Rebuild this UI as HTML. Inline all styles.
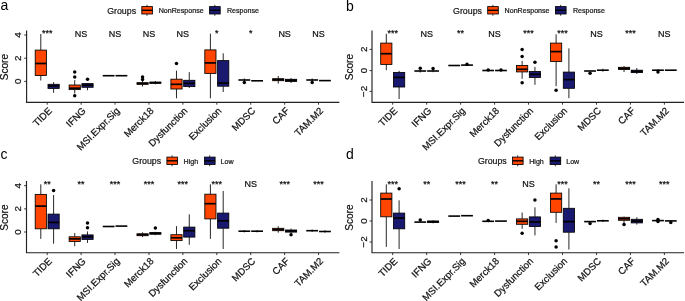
<!DOCTYPE html>
<html><head><meta charset="utf-8"><style>
html,body{margin:0;padding:0;background:#fff;}
body{width:685px;height:301px;overflow:hidden;}
svg{display:block;will-change:transform;}
text{font-family:"Liberation Sans", sans-serif;fill:#1a1a1a;stroke:#111;stroke-width:0.22px;}
.tk{font-size:9.7px;fill:#111;}
.yk{font-size:9.8px;fill:#111;}
.tt{font-size:10.1px;fill:#111;}
.sg{font-size:9px;fill:#111;}
.pl{font-size:14px;fill:#000;stroke:none;}
.lt{font-size:8.8px;fill:#222;}
.ll{font-size:7.1px;fill:#222;}
</style></head><body>
<svg width="685" height="301" viewBox="0 0 685 301">
<rect width="685" height="301" fill="#fff"/>
<path d="M26.6 31V102.3H338.8" fill="none" stroke="#222222" stroke-width="1.15" stroke-linecap="square"/>
<path d="M24.2 35H26.6" stroke="#222222" stroke-width="0.9"/>
<text transform="translate(21.4,35) rotate(-90)" text-anchor="middle" class="yk">4</text>
<path d="M24.2 58.2H26.6" stroke="#222222" stroke-width="0.9"/>
<text transform="translate(21.4,58.2) rotate(-90)" text-anchor="middle" class="yk">2</text>
<path d="M24.2 81.4H26.6" stroke="#222222" stroke-width="0.9"/>
<text transform="translate(21.4,81.4) rotate(-90)" text-anchor="middle" class="yk">0</text>
<text transform="translate(7.8,67.15) rotate(-90)" text-anchor="middle" class="tt">Score</text>
<path d="M47.2 102.3V104.7" stroke="#222222" stroke-width="0.9"/>
<text transform="translate(52.5,111.4) rotate(-45)" text-anchor="end" class="tk">TIDE</text>
<text x="47.2" y="35.9" text-anchor="middle" class="sg">***</text>
<path d="M40.8 34V50.1M40.8 75.5V80.5" stroke="#000" stroke-width="0.85"/>
<rect x="35.2" y="50.1" width="11.2" height="25.4" fill="#FF4500" stroke="#000" stroke-width="0.85"/>
<path d="M35.2 63.5H46.4" stroke="#000" stroke-width="1.7"/>
<path d="M53.6 82.1V84.3M53.6 88.4V92.8" stroke="#000" stroke-width="0.85"/>
<rect x="48" y="84.3" width="11.2" height="4.1" fill="#191970" stroke="#000" stroke-width="0.85"/>
<path d="M48 86H59.2" stroke="#000" stroke-width="1.7"/>
<path d="M81.12 102.3V104.7" stroke="#222222" stroke-width="0.9"/>
<text transform="translate(86.42,111.4) rotate(-45)" text-anchor="end" class="tk">IFNG</text>
<text x="81.12" y="36.7" text-anchor="middle" class="sg">NS</text>
<path d="M74.72 80.1V85M74.72 89.6V93.5" stroke="#000" stroke-width="0.85"/>
<rect x="69.12" y="85" width="11.2" height="4.6" fill="#FF4500" stroke="#000" stroke-width="0.85"/>
<path d="M69.12 88.2H80.32" stroke="#000" stroke-width="1.7"/>
<circle cx="74.72" cy="72" r="1.75" fill="#000"/>
<circle cx="74.72" cy="77" r="1.75" fill="#000"/>
<circle cx="74.72" cy="95.8" r="1.75" fill="#000"/>
<path d="M87.52 83V83.6M87.52 87.3V90.3" stroke="#000" stroke-width="0.85"/>
<rect x="81.92" y="83.6" width="11.2" height="3.7" fill="#191970" stroke="#000" stroke-width="0.85"/>
<path d="M81.92 85.2H93.12" stroke="#000" stroke-width="1.7"/>
<circle cx="87.52" cy="79.2" r="1.75" fill="#000"/>
<path d="M115.04 102.3V104.7" stroke="#222222" stroke-width="0.9"/>
<text transform="translate(120.34,111.4) rotate(-45)" text-anchor="end" class="tk">MSI.Expr.Sig</text>
<text x="115.04" y="36.7" text-anchor="middle" class="sg">NS</text>
<path d="M102.74 75.7H114.54" stroke="#000" stroke-width="1.6"/>
<path d="M115.54 75.7H127.34" stroke="#000" stroke-width="1.6"/>
<path d="M148.96 102.3V104.7" stroke="#222222" stroke-width="0.9"/>
<text transform="translate(154.26,111.4) rotate(-45)" text-anchor="end" class="tk">Merck18</text>
<text x="148.96" y="36.7" text-anchor="middle" class="sg">NS</text>
<path d="M142.56 80.6V82.7M142.56 84.3V86.5" stroke="#000" stroke-width="0.85"/>
<rect x="136.96" y="82.7" width="11.2" height="1.6" fill="#FF4500" stroke="#000" stroke-width="0.85"/>
<path d="M136.96 83.5H148.16" stroke="#000" stroke-width="1.7"/>
<circle cx="142.56" cy="76.9" r="1.75" fill="#000"/>
<circle cx="142.56" cy="79.4" r="1.75" fill="#000"/>
<path d="M155.36 81V82.1M155.36 83.3V84.3" stroke="#000" stroke-width="0.85"/>
<rect x="149.76" y="82.1" width="11.2" height="1.2" fill="#191970" stroke="#000" stroke-width="0.85"/>
<path d="M149.76 82.7H160.96" stroke="#000" stroke-width="1.7"/>
<path d="M182.88 102.3V104.7" stroke="#222222" stroke-width="0.9"/>
<text transform="translate(188.18,111.4) rotate(-45)" text-anchor="end" class="tk">Dysfunction</text>
<text x="182.88" y="36.7" text-anchor="middle" class="sg">NS</text>
<path d="M176.48 70.6V79.2M176.48 89V98.3" stroke="#000" stroke-width="0.85"/>
<rect x="170.88" y="79.2" width="11.2" height="9.8" fill="#FF4500" stroke="#000" stroke-width="0.85"/>
<path d="M170.88 84.3H182.08" stroke="#000" stroke-width="1.7"/>
<circle cx="176.48" cy="63.4" r="1.75" fill="#000"/>
<path d="M189.28 72.2V80.3M189.28 86.6V88" stroke="#000" stroke-width="0.85"/>
<rect x="183.68" y="80.3" width="11.2" height="6.3" fill="#191970" stroke="#000" stroke-width="0.85"/>
<path d="M183.68 83.4H194.88" stroke="#000" stroke-width="1.7"/>
<path d="M216.8 102.3V104.7" stroke="#222222" stroke-width="0.9"/>
<text transform="translate(222.1,111.4) rotate(-45)" text-anchor="end" class="tk">Exclusion</text>
<text x="216.8" y="35.9" text-anchor="middle" class="sg">*</text>
<path d="M210.4 33.7V49.9M210.4 73.4V98.3" stroke="#000" stroke-width="0.85"/>
<rect x="204.8" y="49.9" width="11.2" height="23.5" fill="#FF4500" stroke="#000" stroke-width="0.85"/>
<path d="M204.8 62.9H216" stroke="#000" stroke-width="1.7"/>
<path d="M223.2 53.3V60.6M223.2 86.2V92" stroke="#000" stroke-width="0.85"/>
<rect x="217.6" y="60.6" width="11.2" height="25.6" fill="#191970" stroke="#000" stroke-width="0.85"/>
<path d="M217.6 83.1H228.8" stroke="#000" stroke-width="1.7"/>
<path d="M250.72 102.3V104.7" stroke="#222222" stroke-width="0.9"/>
<text transform="translate(256.02,111.4) rotate(-45)" text-anchor="end" class="tk">MDSC</text>
<text x="250.72" y="35.9" text-anchor="middle" class="sg">*</text>
<path d="M238.42 80H250.22" stroke="#000" stroke-width="1.6"/>
<path d="M244.32 78.5V81.5" stroke="#000" stroke-width="0.85"/>
<circle cx="244.32" cy="82.4" r="1.75" fill="#000"/>
<path d="M251.22 80.8H263.02" stroke="#000" stroke-width="1.6"/>
<path d="M284.64 102.3V104.7" stroke="#222222" stroke-width="0.9"/>
<text transform="translate(289.94,111.4) rotate(-45)" text-anchor="end" class="tk">CAF</text>
<text x="284.64" y="36.7" text-anchor="middle" class="sg">NS</text>
<path d="M278.24 76V78.7M278.24 80.7V83.7" stroke="#000" stroke-width="0.85"/>
<rect x="272.64" y="78.7" width="11.2" height="2" fill="#FF4500" stroke="#000" stroke-width="0.85"/>
<path d="M272.64 79.7H283.84" stroke="#000" stroke-width="1.7"/>
<path d="M291.04 78V79.3M291.04 81.4V83" stroke="#000" stroke-width="0.85"/>
<rect x="285.44" y="79.3" width="11.2" height="2.1" fill="#191970" stroke="#000" stroke-width="0.85"/>
<path d="M285.44 80.3H296.64" stroke="#000" stroke-width="1.7"/>
<path d="M318.56 102.3V104.7" stroke="#222222" stroke-width="0.9"/>
<text transform="translate(323.86,111.4) rotate(-45)" text-anchor="end" class="tk">TAM.M2</text>
<text x="318.56" y="36.7" text-anchor="middle" class="sg">NS</text>
<path d="M306.26 80H318.06" stroke="#000" stroke-width="1.6"/>
<path d="M312.16 78.5V81.5" stroke="#000" stroke-width="0.85"/>
<circle cx="312.16" cy="82.6" r="1.75" fill="#000"/>
<path d="M319.06 80.6H330.86" stroke="#000" stroke-width="1.6"/>
<text x="0.6" y="10.4" class="pl">a</text>
<text x="107.2" y="13.6" class="lt">Groups</text>
<path d="M147 4.8V15.8" stroke="#000" stroke-width="0.75"/>
<rect x="141.8" y="6.6" width="10.6" height="7.4" fill="#FF4500" stroke="#000" stroke-width="0.85"/>
<path d="M141.8 10.3H152.4" stroke="#000" stroke-width="1.4"/>
<path d="M214.8 4.8V15.8" stroke="#000" stroke-width="0.75"/>
<rect x="209.6" y="6.6" width="10.6" height="7.4" fill="#191970" stroke="#000" stroke-width="0.85"/>
<path d="M209.6 10.3H220.2" stroke="#000" stroke-width="1.4"/>
<text x="158.7" y="13.2" class="ll">NonResponse</text>
<text x="227" y="13.2" class="ll">Response</text>
<path d="M372 31V102.3H683.5" fill="none" stroke="#222222" stroke-width="1.15" stroke-linecap="square"/>
<path d="M369.6 49.4H372" stroke="#222222" stroke-width="0.9"/>
<text transform="translate(366.8,49.4) rotate(-90)" text-anchor="middle" class="yk">2</text>
<path d="M369.6 70.6H372" stroke="#222222" stroke-width="0.9"/>
<text transform="translate(366.8,70.6) rotate(-90)" text-anchor="middle" class="yk">0</text>
<path d="M369.6 91.4H372" stroke="#222222" stroke-width="0.9"/>
<text transform="translate(366.8,91.4) rotate(-90)" text-anchor="middle" class="yk">−2</text>
<text transform="translate(353.2,67.15) rotate(-90)" text-anchor="middle" class="tt">Score</text>
<path d="M392.7 102.3V104.7" stroke="#222222" stroke-width="0.9"/>
<text transform="translate(398,111.4) rotate(-45)" text-anchor="end" class="tk">TIDE</text>
<text x="392.7" y="35.9" text-anchor="middle" class="sg">***</text>
<path d="M386.3 33.8V43.1M386.3 64.4V70.2" stroke="#000" stroke-width="0.85"/>
<rect x="380.7" y="43.1" width="11.2" height="21.3" fill="#FF4500" stroke="#000" stroke-width="0.85"/>
<path d="M380.7 53.7H391.9" stroke="#000" stroke-width="1.7"/>
<path d="M399.1 70.8V72.4M399.1 87V99" stroke="#000" stroke-width="0.85"/>
<rect x="393.5" y="72.4" width="11.2" height="14.6" fill="#191970" stroke="#000" stroke-width="0.85"/>
<path d="M393.5 77.4H404.7" stroke="#000" stroke-width="1.7"/>
<path d="M426.66 102.3V104.7" stroke="#222222" stroke-width="0.9"/>
<text transform="translate(431.96,111.4) rotate(-45)" text-anchor="end" class="tk">IFNG</text>
<text x="426.66" y="36.7" text-anchor="middle" class="sg">NS</text>
<path d="M414.36 71H426.16" stroke="#000" stroke-width="1.6"/>
<path d="M420.26 69.5V72.5" stroke="#000" stroke-width="0.85"/>
<circle cx="420.26" cy="68.2" r="1.75" fill="#000"/>
<path d="M427.16 71H438.96" stroke="#000" stroke-width="1.6"/>
<path d="M433.06 69.8V72.2" stroke="#000" stroke-width="0.85"/>
<circle cx="433.06" cy="68.6" r="1.75" fill="#000"/>
<path d="M460.62 102.3V104.7" stroke="#222222" stroke-width="0.9"/>
<text transform="translate(465.92,111.4) rotate(-45)" text-anchor="end" class="tk">MSI.Expr.Sig</text>
<text x="460.62" y="35.9" text-anchor="middle" class="sg">**</text>
<path d="M448.32 65.5H460.12" stroke="#000" stroke-width="1.6"/>
<path d="M461.12 65.1H472.92" stroke="#000" stroke-width="1.6"/>
<circle cx="467.02" cy="64.3" r="1.75" fill="#000"/>
<path d="M494.58 102.3V104.7" stroke="#222222" stroke-width="0.9"/>
<text transform="translate(499.88,111.4) rotate(-45)" text-anchor="end" class="tk">Merck18</text>
<text x="494.58" y="36.7" text-anchor="middle" class="sg">NS</text>
<path d="M482.28 70.5H494.08" stroke="#000" stroke-width="1.6"/>
<circle cx="488.18" cy="69.9" r="1.75" fill="#000"/>
<path d="M495.08 70.5H506.88" stroke="#000" stroke-width="1.6"/>
<circle cx="500.98" cy="69.9" r="1.75" fill="#000"/>
<path d="M528.54 102.3V104.7" stroke="#222222" stroke-width="0.9"/>
<text transform="translate(533.84,111.4) rotate(-45)" text-anchor="end" class="tk">Dysfunction</text>
<text x="528.54" y="35.9" text-anchor="middle" class="sg">***</text>
<path d="M522.14 60.9V65.5M522.14 71.9V78.8" stroke="#000" stroke-width="0.85"/>
<rect x="516.54" y="65.5" width="11.2" height="6.4" fill="#FF4500" stroke="#000" stroke-width="0.85"/>
<path d="M516.54 69.3H527.74" stroke="#000" stroke-width="1.7"/>
<circle cx="522.14" cy="49.4" r="1.75" fill="#000"/>
<circle cx="522.14" cy="56.5" r="1.75" fill="#000"/>
<circle cx="522.14" cy="82.8" r="1.75" fill="#000"/>
<path d="M534.94 66.9V71.5M534.94 77.5V84.8" stroke="#000" stroke-width="0.85"/>
<rect x="529.34" y="71.5" width="11.2" height="6" fill="#191970" stroke="#000" stroke-width="0.85"/>
<path d="M529.34 74.3H540.54" stroke="#000" stroke-width="1.7"/>
<circle cx="534.94" cy="62.3" r="1.75" fill="#000"/>
<path d="M562.5 102.3V104.7" stroke="#222222" stroke-width="0.9"/>
<text transform="translate(567.8,111.4) rotate(-45)" text-anchor="end" class="tk">Exclusion</text>
<text x="562.5" y="35.9" text-anchor="middle" class="sg">***</text>
<path d="M556.1 34.3V43.1M556.1 61.5V86.2" stroke="#000" stroke-width="0.85"/>
<rect x="550.5" y="43.1" width="11.2" height="18.4" fill="#FF4500" stroke="#000" stroke-width="0.85"/>
<path d="M550.5 51.6H561.7" stroke="#000" stroke-width="1.7"/>
<circle cx="556.1" cy="90.2" r="1.75" fill="#000"/>
<path d="M568.9 48.4V72.1M568.9 88.3V98.2" stroke="#000" stroke-width="0.85"/>
<rect x="563.3" y="72.1" width="11.2" height="16.2" fill="#191970" stroke="#000" stroke-width="0.85"/>
<path d="M563.3 79.6H574.5" stroke="#000" stroke-width="1.7"/>
<path d="M596.46 102.3V104.7" stroke="#222222" stroke-width="0.9"/>
<text transform="translate(601.76,111.4) rotate(-45)" text-anchor="end" class="tk">MDSC</text>
<text x="596.46" y="36.7" text-anchor="middle" class="sg">NS</text>
<path d="M584.16 71H595.96" stroke="#000" stroke-width="1.6"/>
<circle cx="590.06" cy="73.2" r="1.75" fill="#000"/>
<path d="M596.96 70.2H608.76" stroke="#000" stroke-width="1.6"/>
<path d="M602.86 68.7V71.7" stroke="#000" stroke-width="0.85"/>
<path d="M630.42 102.3V104.7" stroke="#222222" stroke-width="0.9"/>
<text transform="translate(635.72,111.4) rotate(-45)" text-anchor="end" class="tk">CAF</text>
<text x="630.42" y="35.9" text-anchor="middle" class="sg">***</text>
<path d="M624.02 66V67.3M624.02 69.5V72" stroke="#000" stroke-width="0.85"/>
<rect x="618.42" y="67.3" width="11.2" height="2.2" fill="#FF4500" stroke="#000" stroke-width="0.85"/>
<path d="M618.42 68.4H629.62" stroke="#000" stroke-width="1.7"/>
<path d="M636.82 68V70.2M636.82 72.6V74" stroke="#000" stroke-width="0.85"/>
<rect x="631.22" y="70.2" width="11.2" height="2.4" fill="#191970" stroke="#000" stroke-width="0.85"/>
<path d="M631.22 71.4H642.42" stroke="#000" stroke-width="1.7"/>
<path d="M664.38 102.3V104.7" stroke="#222222" stroke-width="0.9"/>
<text transform="translate(669.68,111.4) rotate(-45)" text-anchor="end" class="tk">TAM.M2</text>
<text x="664.38" y="36.7" text-anchor="middle" class="sg">NS</text>
<path d="M652.08 70.2H663.88" stroke="#000" stroke-width="1.6"/>
<path d="M657.98 69V71.4" stroke="#000" stroke-width="0.85"/>
<circle cx="657.98" cy="72" r="1.75" fill="#000"/>
<path d="M664.88 70.2H676.68" stroke="#000" stroke-width="1.6"/>
<text x="346.1" y="10.6" class="pl">b</text>
<text x="453.1" y="13.6" class="lt">Groups</text>
<path d="M492.9 4.8V15.8" stroke="#000" stroke-width="0.75"/>
<rect x="487.7" y="6.6" width="10.6" height="7.4" fill="#FF4500" stroke="#000" stroke-width="0.85"/>
<path d="M487.7 10.3H498.3" stroke="#000" stroke-width="1.4"/>
<path d="M560.7 4.8V15.8" stroke="#000" stroke-width="0.75"/>
<rect x="555.5" y="6.6" width="10.6" height="7.4" fill="#191970" stroke="#000" stroke-width="0.85"/>
<path d="M555.5 10.3H566.1" stroke="#000" stroke-width="1.4"/>
<text x="504.6" y="13.2" class="ll">NonResponse</text>
<text x="572.9" y="13.2" class="ll">Response</text>
<path d="M26.5 181.5V252.7H338.8" fill="none" stroke="#222222" stroke-width="1.15" stroke-linecap="square"/>
<path d="M24.1 185.7H26.5" stroke="#222222" stroke-width="0.9"/>
<text transform="translate(21.3,185.7) rotate(-90)" text-anchor="middle" class="yk">4</text>
<path d="M24.1 208.9H26.5" stroke="#222222" stroke-width="0.9"/>
<text transform="translate(21.3,208.9) rotate(-90)" text-anchor="middle" class="yk">2</text>
<path d="M24.1 232H26.5" stroke="#222222" stroke-width="0.9"/>
<text transform="translate(21.3,232) rotate(-90)" text-anchor="middle" class="yk">0</text>
<text transform="translate(7.7,217.6) rotate(-90)" text-anchor="middle" class="tt">Score</text>
<path d="M47.2 252.7V255.1" stroke="#222222" stroke-width="0.9"/>
<text transform="translate(52.5,261.8) rotate(-45)" text-anchor="end" class="tk">TIDE</text>
<text x="47.2" y="186.6" text-anchor="middle" class="sg">**</text>
<path d="M40.8 184.3V194.4M40.8 228.8V238.9" stroke="#000" stroke-width="0.85"/>
<rect x="35.2" y="194.4" width="11.2" height="34.4" fill="#FF4500" stroke="#000" stroke-width="0.85"/>
<path d="M35.2 206.1H46.4" stroke="#000" stroke-width="1.7"/>
<path d="M53.6 195V214.1M53.6 228.8V243.7" stroke="#000" stroke-width="0.85"/>
<rect x="48" y="214.1" width="11.2" height="14.7" fill="#191970" stroke="#000" stroke-width="0.85"/>
<path d="M48 222.4H59.2" stroke="#000" stroke-width="1.7"/>
<circle cx="53.6" cy="190.4" r="1.75" fill="#000"/>
<path d="M81.12 252.7V255.1" stroke="#222222" stroke-width="0.9"/>
<text transform="translate(86.42,261.8) rotate(-45)" text-anchor="end" class="tk">IFNG</text>
<text x="81.12" y="186.6" text-anchor="middle" class="sg">**</text>
<path d="M74.72 233V236.8M74.72 241.5V246.3" stroke="#000" stroke-width="0.85"/>
<rect x="69.12" y="236.8" width="11.2" height="4.7" fill="#FF4500" stroke="#000" stroke-width="0.85"/>
<path d="M69.12 238.9H80.32" stroke="#000" stroke-width="1.7"/>
<path d="M87.52 231.4V234.9M87.52 239.4V242.9" stroke="#000" stroke-width="0.85"/>
<rect x="81.92" y="234.9" width="11.2" height="4.5" fill="#191970" stroke="#000" stroke-width="0.85"/>
<path d="M81.92 236.8H93.12" stroke="#000" stroke-width="1.7"/>
<circle cx="87.52" cy="222.9" r="1.75" fill="#000"/>
<circle cx="87.52" cy="227.7" r="1.75" fill="#000"/>
<path d="M115.04 252.7V255.1" stroke="#222222" stroke-width="0.9"/>
<text transform="translate(120.34,261.8) rotate(-45)" text-anchor="end" class="tk">MSI.Expr.Sig</text>
<text x="115.04" y="186.6" text-anchor="middle" class="sg">***</text>
<path d="M102.74 226.5H114.54" stroke="#000" stroke-width="1.6"/>
<path d="M115.54 226.1H127.34" stroke="#000" stroke-width="1.6"/>
<path d="M148.96 252.7V255.1" stroke="#222222" stroke-width="0.9"/>
<text transform="translate(154.26,261.8) rotate(-45)" text-anchor="end" class="tk">Merck18</text>
<text x="148.96" y="186.6" text-anchor="middle" class="sg">***</text>
<path d="M142.56 232.3V233.8M142.56 235.7V237.1" stroke="#000" stroke-width="0.85"/>
<rect x="136.96" y="233.8" width="11.2" height="1.9" fill="#FF4500" stroke="#000" stroke-width="0.85"/>
<path d="M136.96 234.7H148.16" stroke="#000" stroke-width="1.7"/>
<path d="M155.36 231.8V232.6M155.36 234.2V235.2" stroke="#000" stroke-width="0.85"/>
<rect x="149.76" y="232.6" width="11.2" height="1.6" fill="#191970" stroke="#000" stroke-width="0.85"/>
<path d="M149.76 233.4H160.96" stroke="#000" stroke-width="1.7"/>
<circle cx="155.36" cy="228" r="1.75" fill="#000"/>
<path d="M182.88 252.7V255.1" stroke="#222222" stroke-width="0.9"/>
<text transform="translate(188.18,261.8) rotate(-45)" text-anchor="end" class="tk">Dysfunction</text>
<text x="182.88" y="186.6" text-anchor="middle" class="sg">***</text>
<path d="M176.48 226.1V234.7M176.48 240.6V249" stroke="#000" stroke-width="0.85"/>
<rect x="170.88" y="234.7" width="11.2" height="5.9" fill="#FF4500" stroke="#000" stroke-width="0.85"/>
<path d="M170.88 237.8H182.08" stroke="#000" stroke-width="1.7"/>
<path d="M189.28 214.3V227.1M189.28 237.1V244.8" stroke="#000" stroke-width="0.85"/>
<rect x="183.68" y="227.1" width="11.2" height="10" fill="#191970" stroke="#000" stroke-width="0.85"/>
<path d="M183.68 230.7H194.88" stroke="#000" stroke-width="1.7"/>
<path d="M216.8 252.7V255.1" stroke="#222222" stroke-width="0.9"/>
<text transform="translate(222.1,261.8) rotate(-45)" text-anchor="end" class="tk">Exclusion</text>
<text x="216.8" y="186.6" text-anchor="middle" class="sg">***</text>
<path d="M210.4 184.3V194.2M210.4 218.9V238.9" stroke="#000" stroke-width="0.85"/>
<rect x="204.8" y="194.2" width="11.2" height="24.7" fill="#FF4500" stroke="#000" stroke-width="0.85"/>
<path d="M204.8 203.7H216" stroke="#000" stroke-width="1.7"/>
<path d="M223.2 191V213.1M223.2 228.2V249" stroke="#000" stroke-width="0.85"/>
<rect x="217.6" y="213.1" width="11.2" height="15.1" fill="#191970" stroke="#000" stroke-width="0.85"/>
<path d="M217.6 220.8H228.8" stroke="#000" stroke-width="1.7"/>
<path d="M250.72 252.7V255.1" stroke="#222222" stroke-width="0.9"/>
<text transform="translate(256.02,261.8) rotate(-45)" text-anchor="end" class="tk">MDSC</text>
<text x="250.72" y="187.4" text-anchor="middle" class="sg">NS</text>
<path d="M238.42 231.2H250.22" stroke="#000" stroke-width="1.6"/>
<path d="M244.32 230V232.4" stroke="#000" stroke-width="0.85"/>
<path d="M251.22 231.2H263.02" stroke="#000" stroke-width="1.6"/>
<path d="M257.12 230V232.4" stroke="#000" stroke-width="0.85"/>
<path d="M284.64 252.7V255.1" stroke="#222222" stroke-width="0.9"/>
<text transform="translate(289.94,261.8) rotate(-45)" text-anchor="end" class="tk">CAF</text>
<text x="284.64" y="186.6" text-anchor="middle" class="sg">***</text>
<path d="M278.24 226.3V228.3M278.24 230.7V232.7" stroke="#000" stroke-width="0.85"/>
<rect x="272.64" y="228.3" width="11.2" height="2.4" fill="#FF4500" stroke="#000" stroke-width="0.85"/>
<path d="M272.64 229.5H283.84" stroke="#000" stroke-width="1.7"/>
<path d="M291.04 228.6V230M291.04 232.1V233.3" stroke="#000" stroke-width="0.85"/>
<rect x="285.44" y="230" width="11.2" height="2.1" fill="#191970" stroke="#000" stroke-width="0.85"/>
<path d="M285.44 231H296.64" stroke="#000" stroke-width="1.7"/>
<circle cx="291.04" cy="234.7" r="1.75" fill="#000"/>
<path d="M318.56 252.7V255.1" stroke="#222222" stroke-width="0.9"/>
<text transform="translate(323.86,261.8) rotate(-45)" text-anchor="end" class="tk">TAM.M2</text>
<text x="318.56" y="186.6" text-anchor="middle" class="sg">***</text>
<path d="M306.26 230.7H318.06" stroke="#000" stroke-width="1.6"/>
<path d="M312.16 229.5V231.9" stroke="#000" stroke-width="0.85"/>
<path d="M319.06 231.5H330.86" stroke="#000" stroke-width="1.6"/>
<path d="M324.96 230.3V232.7" stroke="#000" stroke-width="0.85"/>
<text x="0.6" y="159.1" class="pl">c</text>
<text x="132.3" y="164.1" class="lt">Groups</text>
<path d="M172.1 155.3V166.3" stroke="#000" stroke-width="0.75"/>
<rect x="166.9" y="157.1" width="10.6" height="7.4" fill="#FF4500" stroke="#000" stroke-width="0.85"/>
<path d="M166.9 160.8H177.5" stroke="#000" stroke-width="1.4"/>
<path d="M209.7 155.3V166.3" stroke="#000" stroke-width="0.75"/>
<rect x="204.5" y="157.1" width="10.6" height="7.4" fill="#191970" stroke="#000" stroke-width="0.85"/>
<path d="M204.5 160.8H215.1" stroke="#000" stroke-width="1.4"/>
<text x="183.6" y="163.7" class="ll">High</text>
<text x="220.6" y="163.7" class="ll">Low</text>
<path d="M372 181.5V252.7H683.5" fill="none" stroke="#222222" stroke-width="1.15" stroke-linecap="square"/>
<path d="M369.6 200H372" stroke="#222222" stroke-width="0.9"/>
<text transform="translate(366.8,200) rotate(-90)" text-anchor="middle" class="yk">2</text>
<path d="M369.6 221H372" stroke="#222222" stroke-width="0.9"/>
<text transform="translate(366.8,221) rotate(-90)" text-anchor="middle" class="yk">0</text>
<path d="M369.6 242H372" stroke="#222222" stroke-width="0.9"/>
<text transform="translate(366.8,242) rotate(-90)" text-anchor="middle" class="yk">−2</text>
<text transform="translate(353.2,217.6) rotate(-90)" text-anchor="middle" class="tt">Score</text>
<path d="M392.7 252.7V255.1" stroke="#222222" stroke-width="0.9"/>
<text transform="translate(398,261.8) rotate(-45)" text-anchor="end" class="tk">TIDE</text>
<text x="392.7" y="186.6" text-anchor="middle" class="sg">***</text>
<path d="M386.3 184.3V193.1M386.3 216.8V246.9" stroke="#000" stroke-width="0.85"/>
<rect x="380.7" y="193.1" width="11.2" height="23.7" fill="#FF4500" stroke="#000" stroke-width="0.85"/>
<path d="M380.7 199H391.9" stroke="#000" stroke-width="1.7"/>
<path d="M399.1 200.3V213.1M399.1 228.8V249" stroke="#000" stroke-width="0.85"/>
<rect x="393.5" y="213.1" width="11.2" height="15.7" fill="#191970" stroke="#000" stroke-width="0.85"/>
<path d="M393.5 218.1H404.7" stroke="#000" stroke-width="1.7"/>
<circle cx="399.1" cy="188.8" r="1.75" fill="#000"/>
<path d="M426.66 252.7V255.1" stroke="#222222" stroke-width="0.9"/>
<text transform="translate(431.96,261.8) rotate(-45)" text-anchor="end" class="tk">IFNG</text>
<text x="426.66" y="186.6" text-anchor="middle" class="sg">**</text>
<path d="M414.36 222.1H426.16" stroke="#000" stroke-width="1.6"/>
<circle cx="420.26" cy="220" r="1.75" fill="#000"/>
<path d="M433.06 220.2V221M433.06 222.5V223.3" stroke="#000" stroke-width="0.85"/>
<rect x="427.46" y="221" width="11.2" height="1.5" fill="#191970" stroke="#000" stroke-width="0.85"/>
<path d="M427.46 221.7H438.66" stroke="#000" stroke-width="1.7"/>
<path d="M460.62 252.7V255.1" stroke="#222222" stroke-width="0.9"/>
<text transform="translate(465.92,261.8) rotate(-45)" text-anchor="end" class="tk">MSI.Expr.Sig</text>
<text x="460.62" y="186.6" text-anchor="middle" class="sg">***</text>
<path d="M448.32 216.1H460.12" stroke="#000" stroke-width="1.6"/>
<path d="M461.12 215.7H472.92" stroke="#000" stroke-width="1.6"/>
<path d="M494.58 252.7V255.1" stroke="#222222" stroke-width="0.9"/>
<text transform="translate(499.88,261.8) rotate(-45)" text-anchor="end" class="tk">Merck18</text>
<text x="494.58" y="186.6" text-anchor="middle" class="sg">**</text>
<path d="M482.28 221.3H494.08" stroke="#000" stroke-width="1.6"/>
<circle cx="488.18" cy="220.5" r="1.75" fill="#000"/>
<path d="M495.08 221.1H506.88" stroke="#000" stroke-width="1.6"/>
<path d="M528.54 252.7V255.1" stroke="#222222" stroke-width="0.9"/>
<text transform="translate(533.84,261.8) rotate(-45)" text-anchor="end" class="tk">Dysfunction</text>
<text x="528.54" y="187.4" text-anchor="middle" class="sg">NS</text>
<path d="M522.14 212.5V218.9M522.14 224.3V228.8" stroke="#000" stroke-width="0.85"/>
<rect x="516.54" y="218.9" width="11.2" height="5.4" fill="#FF4500" stroke="#000" stroke-width="0.85"/>
<path d="M516.54 221.3H527.74" stroke="#000" stroke-width="1.7"/>
<circle cx="522.14" cy="233.2" r="1.75" fill="#000"/>
<path d="M534.94 207.3V216.9M534.94 226.5V235.4" stroke="#000" stroke-width="0.85"/>
<rect x="529.34" y="216.9" width="11.2" height="9.6" fill="#191970" stroke="#000" stroke-width="0.85"/>
<path d="M529.34 221.9H540.54" stroke="#000" stroke-width="1.7"/>
<circle cx="534.94" cy="200" r="1.75" fill="#000"/>
<path d="M562.5 252.7V255.1" stroke="#222222" stroke-width="0.9"/>
<text transform="translate(567.8,261.8) rotate(-45)" text-anchor="end" class="tk">Exclusion</text>
<text x="562.5" y="186.6" text-anchor="middle" class="sg">***</text>
<path d="M556.1 184.3V193.1M556.1 212.3V222.9" stroke="#000" stroke-width="0.85"/>
<rect x="550.5" y="193.1" width="11.2" height="19.2" fill="#FF4500" stroke="#000" stroke-width="0.85"/>
<path d="M550.5 198.9H561.7" stroke="#000" stroke-width="1.7"/>
<circle cx="556.1" cy="240.7" r="1.75" fill="#000"/>
<circle cx="556.1" cy="246.9" r="1.75" fill="#000"/>
<path d="M568.9 188.3V208.3M568.9 232.2V249.5" stroke="#000" stroke-width="0.85"/>
<rect x="563.3" y="208.3" width="11.2" height="23.9" fill="#191970" stroke="#000" stroke-width="0.85"/>
<path d="M563.3 221.6H574.5" stroke="#000" stroke-width="1.7"/>
<path d="M596.46 252.7V255.1" stroke="#222222" stroke-width="0.9"/>
<text transform="translate(601.76,261.8) rotate(-45)" text-anchor="end" class="tk">MDSC</text>
<text x="596.46" y="186.6" text-anchor="middle" class="sg">**</text>
<path d="M584.16 221.6H595.96" stroke="#000" stroke-width="1.6"/>
<circle cx="590.06" cy="223.6" r="1.75" fill="#000"/>
<path d="M596.96 220.8H608.76" stroke="#000" stroke-width="1.6"/>
<path d="M602.86 219.6V222" stroke="#000" stroke-width="0.85"/>
<path d="M630.42 252.7V255.1" stroke="#222222" stroke-width="0.9"/>
<text transform="translate(635.72,261.8) rotate(-45)" text-anchor="end" class="tk">CAF</text>
<text x="630.42" y="186.6" text-anchor="middle" class="sg">***</text>
<path d="M624.02 216.6V217.3M624.02 220.3V224.6" stroke="#000" stroke-width="0.85"/>
<rect x="618.42" y="217.3" width="11.2" height="3" fill="#FF4500" stroke="#000" stroke-width="0.85"/>
<path d="M618.42 218.8H629.62" stroke="#000" stroke-width="1.7"/>
<circle cx="624.02" cy="224.6" r="1.75" fill="#000"/>
<path d="M636.82 217.3V219.3M636.82 222.9V224.6" stroke="#000" stroke-width="0.85"/>
<rect x="631.22" y="219.3" width="11.2" height="3.6" fill="#191970" stroke="#000" stroke-width="0.85"/>
<path d="M631.22 221.1H642.42" stroke="#000" stroke-width="1.7"/>
<path d="M664.38 252.7V255.1" stroke="#222222" stroke-width="0.9"/>
<text transform="translate(669.68,261.8) rotate(-45)" text-anchor="end" class="tk">TAM.M2</text>
<text x="664.38" y="186.6" text-anchor="middle" class="sg">***</text>
<path d="M652.08 220.6H663.88" stroke="#000" stroke-width="1.6"/>
<circle cx="657.98" cy="219.5" r="1.75" fill="#000"/>
<circle cx="657.98" cy="221.5" r="1.75" fill="#000"/>
<path d="M664.88 220.9H676.68" stroke="#000" stroke-width="1.6"/>
<circle cx="670.78" cy="222.6" r="1.75" fill="#000"/>
<text x="346.1" y="159.1" class="pl">d</text>
<text x="477.9" y="164.1" class="lt">Groups</text>
<path d="M517.7 155.3V166.3" stroke="#000" stroke-width="0.75"/>
<rect x="512.5" y="157.1" width="10.6" height="7.4" fill="#FF4500" stroke="#000" stroke-width="0.85"/>
<path d="M512.5 160.8H523.1" stroke="#000" stroke-width="1.4"/>
<path d="M555.3 155.3V166.3" stroke="#000" stroke-width="0.75"/>
<rect x="550.1" y="157.1" width="10.6" height="7.4" fill="#191970" stroke="#000" stroke-width="0.85"/>
<path d="M550.1 160.8H560.7" stroke="#000" stroke-width="1.4"/>
<text x="529.2" y="163.7" class="ll">High</text>
<text x="566.2" y="163.7" class="ll">Low</text>
</svg>
</body></html>
